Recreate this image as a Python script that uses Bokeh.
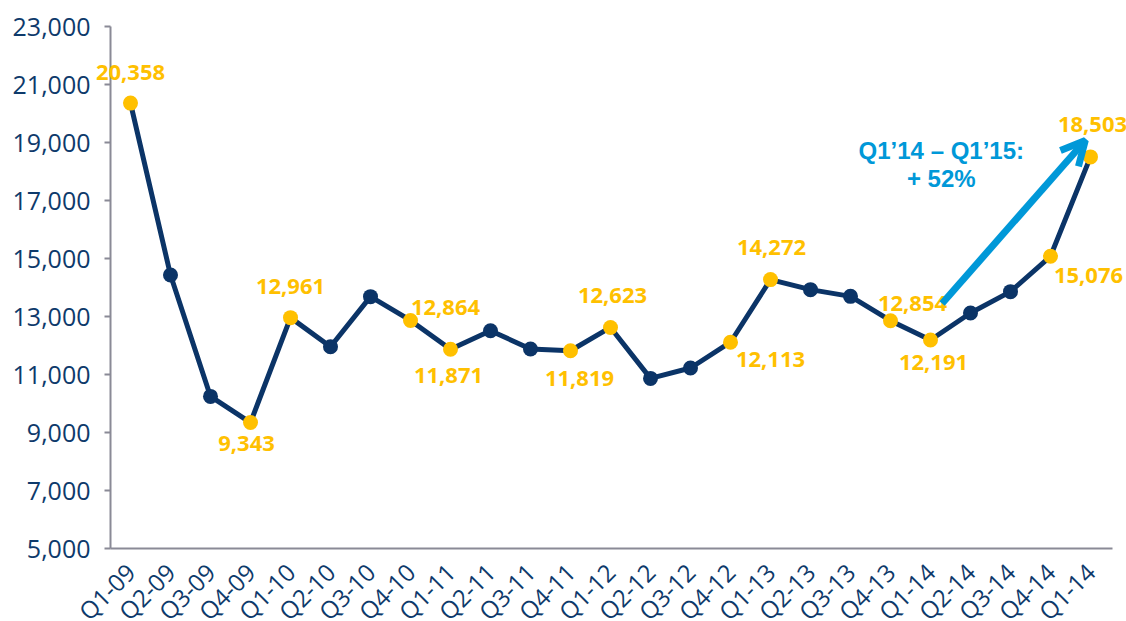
import numpy as np
from bokeh.plotting import figure
from bokeh.models import (FixedTicker, NumeralTickFormatter, Range1d,
                          Arrow, OpenHead, Label)
from bokeh.embed import file_html
from bokeh.resources import INLINE

# ---------------- data ----------------
quarters = ["Q1-09", "Q2-09", "Q3-09", "Q4-09", "Q1-10", "Q2-10", "Q3-10", "Q4-10",
            "Q1-11", "Q2-11", "Q3-11", "Q4-11", "Q1-12", "Q2-12", "Q3-12", "Q4-12",
            "Q1-13", "Q2-13", "Q3-13", "Q4-13", "Q1-14", "Q2-14", "Q3-14", "Q4-14",
            "Q1-14"]
values = [20358, 14430, 10244, 9343, 12961, 11959, 13684, 12864,
          11871, 12511, 11880, 11819, 12623, 10865, 11224, 12113,
          14272, 13926, 13695, 12854, 12191, 13122, 13857, 15076,
          18503]
labeled_idx = [0, 3, 4, 7, 8, 11, 12, 15, 16, 19, 20, 23, 24]
y_ticks = [5000, 7000, 9000, 11000, 13000, 15000, 17000, 19000, 21000, 23000]
note_lines = ["Q1\u201914 \u2013 Q1\u201915:", "+ 52%"]

# label placement (screen px offsets from point: dx, dy with down positive)
label_offsets = {0: (0, -31), 3: (-4, 21), 4: (0, -31), 7: (35, -13), 8: (-2, 26),
                 11: (9, 28), 12: (2, -32), 15: (40, 17), 16: (1, -32), 19: (22, -17),
                 20: (3, 23), 23: (38, 19), 24: (2, -32)}

NAVY = "#0B3467"
YELLOW = "#FFC000"
BLUE = "#0098D8"
AXIS = "#8A8A96"
TICK_TXT = "#0E3A6B"

x = np.arange(len(quarters))
x_lo, x_hi = -0.5, len(quarters) - 0.45   # visible x-axis extent
y_lo, y_hi = y_ticks[0], y_ticks[-1]       # visible y-axis extent

# frame covers the whole canvas (so labels may overhang the axes); axes limited by bounds
W, H = 1126, 621
PX_PER_X = 40.0
PX_PER_Y = 522.0 / (y_hi - y_lo)
LEFT_PAD, TOP_PAD, BOTTOM_PAD = 110, 26, H - 548

p = figure(frame_width=W, frame_height=H, output_backend="svg", toolbar_location=None,
           x_range=Range1d(x_lo - LEFT_PAD / PX_PER_X, x_lo + (W - LEFT_PAD) / PX_PER_X),
           y_range=Range1d(y_lo - BOTTOM_PAD / PX_PER_Y, y_hi + TOP_PAD / PX_PER_Y),
           min_border_left=0, min_border_top=0, min_border_right=0, min_border_bottom=0)
p.outline_line_color = None
p.grid.visible = False
p.background_fill_color = "white"

# line + markers
p.line(x, values, line_color=NAVY, line_width=5)
un_idx = [i for i in range(len(values)) if i not in labeled_idx]
p.scatter([x[i] for i in un_idx], [values[i] for i in un_idx], size=15,
          fill_color=NAVY, line_color=None)
p.scatter([x[i] for i in labeled_idx], [values[i] for i in labeled_idx], size=15,
          fill_color=YELLOW, line_color=None)

# data labels
for i in labeled_idx:
    dx, dy = label_offsets[i]
    p.add_layout(Label(x=float(x[i]), y=values[i], text=f"{values[i]:,}",
                       x_offset=dx, y_offset=-dy,
                       text_font="Open Sans", text_font_style="bold", text_font_size="22px",
                       text_color=YELLOW, text_align="center", text_baseline="middle"))

# arrow annotation
arrow = Arrow(end=OpenHead(size=24, line_color=BLUE, line_width=7),
              x_start=20.29, y_start=13450, x_end=23.87, y_end=19070,
              line_color=BLUE, line_width=7, line_cap="butt")
p.add_layout(arrow)

for txt, yy in zip(note_lines, [18720, 17750]):
    p.add_layout(Label(x=20.27, y=yy, text=txt,
                       text_font="Liberation Sans", text_font_style="bold", text_font_size="24px",
                       text_color=BLUE, text_align="center", text_baseline="middle"))

# axes
p.yaxis.fixed_location = x_lo
p.yaxis.bounds = (y_lo, y_hi)
p.yaxis.ticker = FixedTicker(ticks=y_ticks)
p.yaxis.formatter = NumeralTickFormatter(format="0,0")
p.yaxis.major_tick_out = 6
p.yaxis.major_tick_in = 0
p.yaxis.minor_tick_out = 0
p.yaxis.minor_tick_in = 0
p.yaxis.major_label_standoff = 14
p.yaxis.axis_line_color = AXIS
p.yaxis.axis_line_width = 2
p.yaxis.major_tick_line_color = AXIS
p.yaxis.major_tick_line_width = 2
p.yaxis.major_label_text_font = "Open Sans"
p.yaxis.major_label_text_font_size = "25px"
p.yaxis.major_label_text_color = TICK_TXT

p.xaxis.fixed_location = y_lo
p.xaxis.bounds = (x_lo, x_hi)
p.xaxis.ticker = FixedTicker(ticks=list(range(len(quarters))))
p.xaxis.major_label_overrides = {i: q for i, q in enumerate(quarters)}
p.xaxis.major_label_orientation = np.pi / 4
p.xaxis.major_tick_out = 0
p.xaxis.major_tick_in = 0
p.xaxis.minor_tick_out = 0
p.xaxis.minor_tick_in = 0
p.xaxis.major_label_standoff = 19
p.xaxis.axis_line_color = AXIS
p.xaxis.axis_line_width = 2
p.xaxis.major_label_text_font = "Open Sans"
p.xaxis.major_label_text_font_size = "24px"
p.xaxis.major_label_text_color = TICK_TXT

html = file_html(p, INLINE)
html = html.replace("<head>", "<head><style>html,body{overflow:hidden;margin:0;}</style>", 1)
open("out.html", "w").write(html)
